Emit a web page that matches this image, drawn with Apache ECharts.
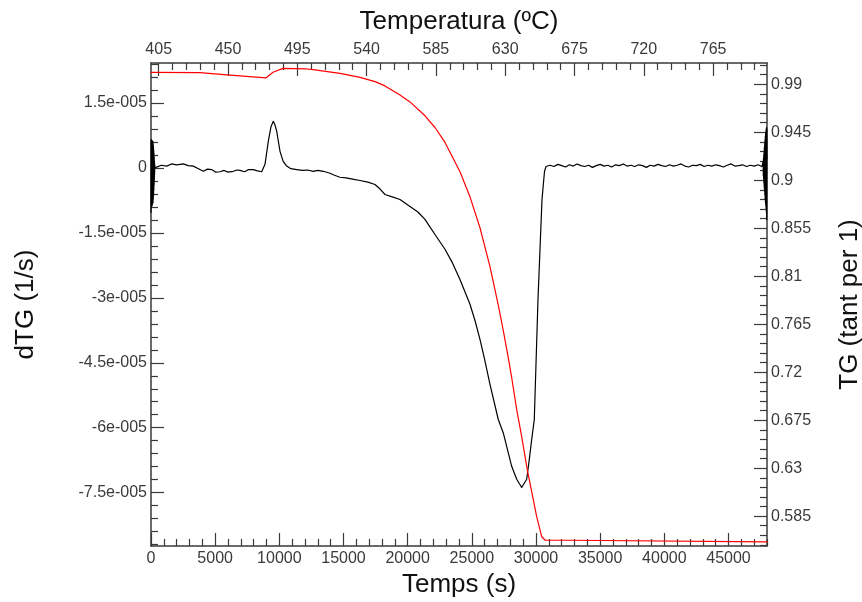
<!DOCTYPE html>
<html>
<head>
<meta charset="utf-8">
<script src="https://cdn.jsdelivr.net/npm/echarts@6/dist/echarts.min.js"></script>
<style>
html,body{margin:0;padding:0;background:#fff;}
#chart{width:862px;height:602px;}
</style>
</head>
<body>
<div id="chart"></div>
<script>
// ---- data ----
// dTG series: time (s) and value (in units of 1e-6 1/s)
const dtgTime = [
  0,10,20,30,40,50,60,70,80,90,100,110,120,130,140,150,160,170,180,190,200,210,220,230,240,250,260,270,280,290,300,
  444,800,1223,1600,2000,2517,2900,3296,3700,4075,4400,4730,5050,5376,5700,6000,6413,6700,6935,7300,7600,7971,8300,8626,
  8883,9140,9350,9530,9650,9795,10052,10300,10574,10900,11353,11800,12200,12647,13000,13426,13900,14300,14727,15200,15700,
  16285,16900,17454,17850,18233,18800,19402,20181,20800,21350,22129,22908,23500,24077,24856,25250,25635,26000,26414,27061,
  27451,27841,28106,28495,28885,29275,29478,29665,29867,30155,30467,30662,30779,
  31100,31400,31700,32000,32300,32600,32900,33200,33500,33800,34100,34400,34700,35000,35300,35600,35900,36200,36500,36800,
  37100,37400,37700,38000,38300,38600,38900,39200,39500,39800,40100,40400,40700,41000,41300,41600,41900,42200,42500,42800,
  43100,43400,43700,44000,44300,44600,44900,45200,45500,45800,46100,46400,46700,47000,47300,47600,
  47700,47712,47724,47736,47748,47760,47772,47784,47796,47808,47820,47832,47844,47856,47868,47880,47892,47904,47916,47928,
  47940,47952,47964,47976,47988,48000
];
const dtgMicro = [
  -10.3,6.5,-9.0,6.2,-8.6,6.4,-8.2,5.9,-8.8,6.3,-7.9,6.0,-8.4,5.7,-7.6,6.1,-8.0,5.5,-7.2,5.0,-6.4,4.2,-5.2,3.4,-4.0,2.5,-2.8,1.6,-1.6,0.8,0.0,
  0.0,0.6,0.4,0.9,0.7,0.9,0.5,0.4,-0.2,-0.8,-0.3,-0.4,-1.0,-0.9,-0.6,-1.0,-0.8,-0.5,-0.6,-0.9,-0.4,-0.4,-0.7,-0.9,
  0.8,6.1,9.5,10.75,10.0,8.45,3.8,1.5,0.4,-0.2,-0.4,-0.6,-0.5,-0.8,-0.6,-0.8,-1.2,-1.7,-2.17,-2.3,-2.6,
  -2.93,-3.3,-3.85,-4.9,-6.16,-6.7,-7.31,-8.93,-10.2,-11.9,-15.4,-18.8,-22.0,-25.8,-31.5,-35.3,-39.6,-44.3,-50.0,-58.1,
  -61.2,-65.8,-68.9,-71.9,-73.8,-71.9,-67.3,-62.7,-58.1,-30.4,-7.3,-0.85,0.3,
  0.6,0.3,0.8,0.5,0.2,0.7,0.4,0.9,0.5,0.3,0.6,0.1,0.5,0.8,0.4,0.6,0.2,0.7,0.5,0.9,
  0.4,0.6,0.3,0.7,0.5,0.1,0.6,0.4,0.8,0.5,0.3,0.7,0.4,0.6,0.9,0.4,0.2,0.6,0.5,0.8,
  0.3,0.6,0.4,0.7,0.5,0.2,0.6,0.9,0.4,0.5,0.7,0.3,0.6,0.4,0.7,0.3,
  1.5,-1.8,2.2,-2.6,3.0,-3.5,3.9,-4.5,4.8,-5.4,5.6,-6.3,6.5,-7.2,7.3,-8.0,8.0,-8.7,8.6,-9.4,
  9.0,-10.2,9.3,-11.9,9.0,2.0
];
// TG series: time (s) and mass fraction
const tgTime = [0,3818,6156,8700,8950,9506,10285,12132,12623,14727,16285,17454,18233,19402,20181,21350,22129,22908,
  24077,24856,25635,26414,27061,27451,27841,28106,28495,28885,29322,29665,30054,30443,30700,32650,32700,48000];
const tgValue = [1.0013,1.0009,0.9987,0.9962,0.9960,1.0013,1.0050,1.0044,1.0037,1.0003,0.9965,0.9925,0.9885,0.9800,0.9735,
  0.9605,0.9495,0.9355,0.9080,0.8845,0.8555,0.8190,0.7830,0.7590,0.7335,0.7150,0.6850,0.6595,0.6283,0.6079,0.5845,0.5657,
  0.5626,0.5624,0.5608,0.5608];

// tick labels
const bottomTicks = [0,5000,10000,15000,20000,25000,30000,35000,40000,45000];
const topTicks = [405,450,495,540,585,630,675,720,765];
const leftTicks = [1.5e-5,0,-1.5e-5,-3e-5,-4.5e-5,-6e-5,-7.5e-5];
const leftLabels = ['1.5e-005','0','-1.5e-005','-3e-005','-4.5e-005','-6e-005','-7.5e-005'];
const rightTicks = [0.99,0.945,0.9,0.855,0.81,0.765,0.72,0.675,0.63,0.585];
const rightLabels = ['0.99','0.945','0.9','0.855','0.81','0.765','0.72','0.675','0.63','0.585'];

// minor tick positions
const bottomMinor = [];
for (let k = 1; k <= 48; k++) if (k % 5) bottomMinor.push(k * 1000);
const topMinor = [];
for (let k = 0; k <= 43; k++) if (k % 5) topMinor.push(405 + 9 * k);
const leftMinor = [];
for (let k = -29; k <= 8; k++) if (k % 5) leftMinor.push(k * 3e-6);
const rightMinor = [];
for (let k = 0; k <= 50; k++) {
  const v = Math.round((0.558 + 0.009 * k) * 1000) / 1000;
  if (!rightTicks.some(r => Math.abs(r - v) < 1e-6)) rightMinor.push(v);
}

const FONT = "'Liberation Sans', Arial, sans-serif";
const AX = '#3a3a3a';
const labelStyle = {color: '#3a3a3a', fontSize: 16, fontFamily: FONT};
const nameStyle = {color: '#111', fontSize: 26, fontFamily: FONT};

function major(extra) {
  return Object.assign({
    type: 'value',
    axisLine: {show: true, onZero: false, lineStyle: {color: AX, width: 1.5}},
    splitLine: {show: false},
    minorTick: {show: false},
    minorSplitLine: {show: false}
  }, extra);
}
function minor(extra, ticks) {
  return Object.assign({
    type: 'value',
    axisLine: {show: false, onZero: false},
    axisLabel: {show: false},
    axisTick: {show: true, inside: true, length: 7, customValues: ticks, lineStyle: {color: AX, width: 1.2}},
    splitLine: {show: false}
  }, extra);
}
function nearestLabel(ticks, labels, v) {
  let best = 0;
  for (let i = 1; i < ticks.length; i++) if (Math.abs(ticks[i] - v) < Math.abs(ticks[best] - v)) best = i;
  return labels[best];
}

const chart = echarts.init(document.getElementById('chart'), null, {renderer: 'canvas'});
chart.setOption({
  animation: false,
  backgroundColor: '#fff',
  grid: {left: 151, right: 95, top: 63, bottom: 56, containLabel: false, outerBoundsMode: 'none'},
  xAxis: [
    major({
      position: 'bottom', min: 0, max: 48000,
      axisTick: {show: true, inside: true, length: 13, customValues: bottomTicks, lineStyle: {color: AX, width: 1.2}},
      axisLabel: Object.assign({customValues: bottomTicks, margin: 5, formatter: v => String(v)}, labelStyle),
      name: 'Temps (s)', nameLocation: 'middle', nameGap: 26, nameTextStyle: nameStyle
    }),
    minor({position: 'bottom', min: 0, max: 48000}, bottomMinor),
    major({
      position: 'top', min: 400, max: 800,
      axisTick: {show: true, inside: true, length: 13, customValues: topTicks, lineStyle: {color: AX, width: 1.2}},
      axisLabel: Object.assign({customValues: topTicks, margin: 5, formatter: v => String(v)}, labelStyle),
      name: 'Temperatura (ºC)', nameLocation: 'middle', nameGap: 28, nameTextStyle: nameStyle
    }),
    minor({position: 'top', min: 400, max: 800}, topMinor)
  ],
  yAxis: [
    major({
      position: 'left', min: -8.73e-5, max: 2.42e-5,
      axisTick: {show: true, inside: true, length: 13, customValues: leftTicks, lineStyle: {color: AX, width: 1.2}},
      axisLabel: Object.assign({customValues: leftTicks, margin: 4,
        formatter: v => nearestLabel(leftTicks, leftLabels, v)}, labelStyle),
      name: 'dTG (1/s)', nameLocation: 'middle', nameRotate: 90, nameGap: 112, nameTextStyle: nameStyle
    }),
    minor({position: 'left', min: -8.73e-5, max: 2.42e-5}, leftMinor),
    major({
      position: 'right', min: 0.557, max: 1.010,
      axisTick: {show: true, inside: true, length: 13, customValues: rightTicks, lineStyle: {color: AX, width: 1.2}},
      axisLabel: Object.assign({customValues: rightTicks, margin: 4,
        formatter: v => nearestLabel(rightTicks, rightLabels, v)}, labelStyle),
      name: 'TG (tant per 1)', nameLocation: 'middle', nameRotate: 90, nameGap: 70, nameTextStyle: nameStyle
    }),
    minor({position: 'right', min: 0.557, max: 1.010}, rightMinor)
  ],
  series: [
    {
      type: 'line', xAxisIndex: 0, yAxisIndex: 0, showSymbol: false, symbol: 'none',
      data: dtgTime.map((t, i) => [t, dtgMicro[i] * 1e-6]),
      lineStyle: {color: '#000', width: 1.2, join: 'round', cap: 'round'}, z: 2
    },
    {
      type: 'line', xAxisIndex: 0, yAxisIndex: 2, showSymbol: false, symbol: 'none',
      data: tgTime.map((t, i) => [t, tgValue[i]]),
      lineStyle: {color: '#ff0000', width: 1.2, join: 'round', cap: 'round'}, z: 3
    }
  ]
});
</script>
</body>
</html>
